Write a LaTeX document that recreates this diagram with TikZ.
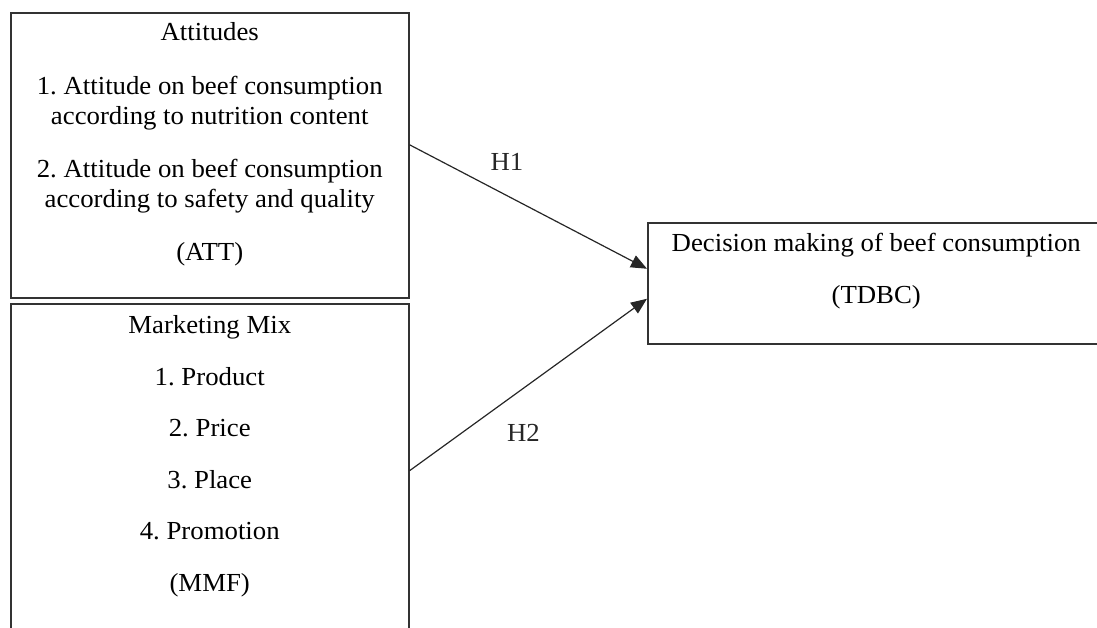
\documentclass[tikz,border=0pt]{standalone}
\usepackage{fontspec}
\setmainfont[FakeStretch=1.03]{Liberation Serif}
\usetikzlibrary{positioning, arrows.meta}
\frenchspacing

\begin{document}
\begin{tikzpicture}[x=0.5pt,y=-0.5pt,>={Triangle[length=8pt,width=6.5pt]},semithick,
  box/.style={draw=black!80,line width=0.75pt,rectangle,inner sep=0pt},
  txt/.style={align=center,inner sep=0pt,font=\fontsize{13}{15}\selectfont},
  hyp/.style={inner sep=0pt,font=\fontsize{13}{15}\selectfont}]
\useasboundingbox (0,0) rectangle (1097,627);
\clip (0,0) rectangle (1097,627);

% the three boxes
\node[box,anchor=north west,minimum width=199pt,minimum height=142.5pt] (att) at (10,12) {};
\node[box,anchor=north west,minimum width=199pt,minimum height=167pt] (mmf) at (10,303) {};
\node[box,anchor=north west,minimum width=228.5pt,minimum height=60.5pt] (tdbc) at (647,222) {};

% box texts
\node[txt,anchor=north] (atttext) at ([yshift=-5.1pt]att.north) {Attitudes\\[12pt]
1. Attitude on beef consumption\\according to nutrition content\\[11.5pt]
2. Attitude on beef consumption\\according to safety and quality\\[11.5pt]
(ATT)};
\node[txt,anchor=north] (mmftext) at ([yshift=-6.1pt]mmf.north) {Marketing Mix\\[10.75pt]
1. Product\\[10.75pt]2. Price\\[10.75pt]3. Place\\[10.75pt]4. Promotion\\[10.75pt](MMF)};
\node[txt,anchor=north] (tdbctext) at ([yshift=-5.1pt]tdbc.north) {Decision making of beef consumption\\[11pt](TDBC)};

% hypotheses
\draw[->,black!85] ([yshift=5.25pt]att.east) -- node[hyp,pos=0.41,yshift=17pt] (h1) {H1} ([yshift=7.25pt]tdbc.west);
\draw[->,black!85] (mmf.east) -- node[hyp,pos=0.48,yshift=-22.5pt] (h2) {H2} ([yshift=-7.75pt]tdbc.west);
\end{tikzpicture}
\end{document}
